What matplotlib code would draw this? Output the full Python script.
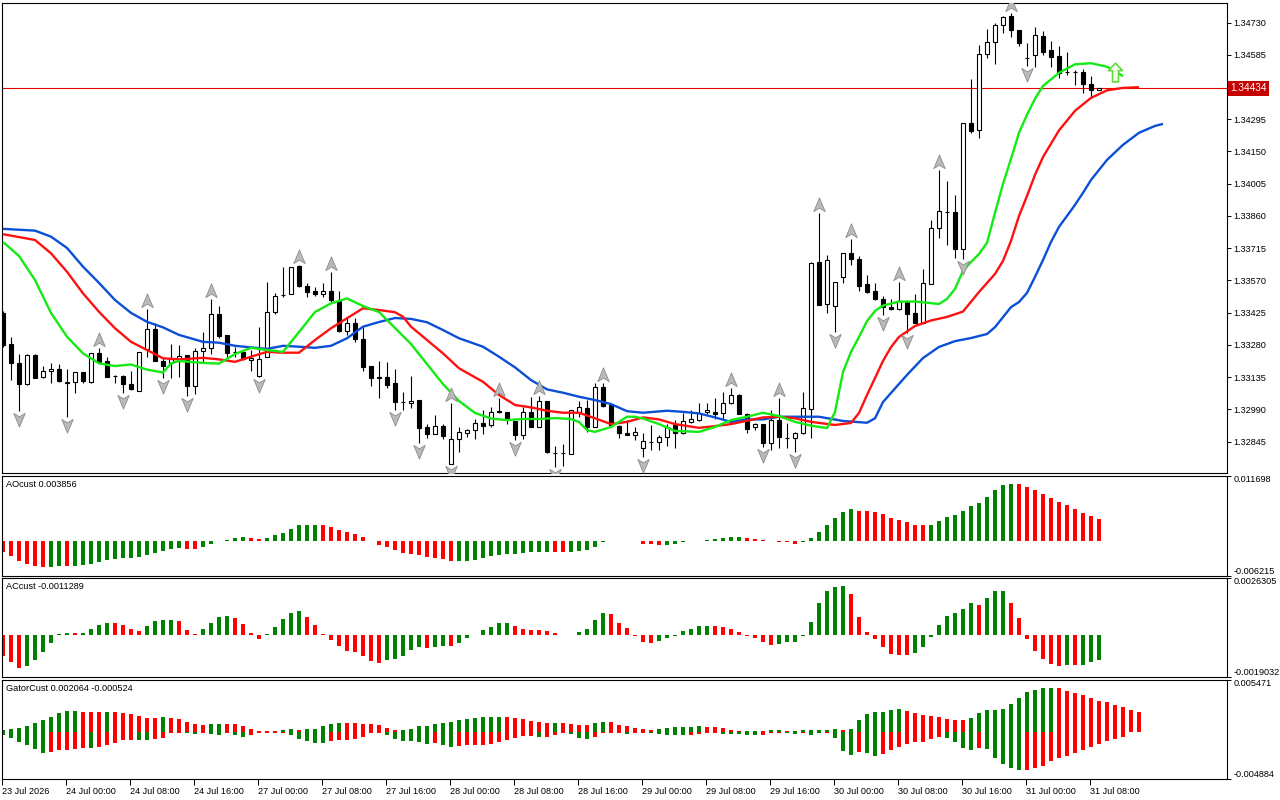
import matplotlib
matplotlib.use("Agg")
import matplotlib.pyplot as plt
import matplotlib.transforms as mtransforms
from matplotlib.path import Path
import numpy as np

plt.rcParams['font.family'] = ['Liberation Sans', 'DejaVu Sans']

# H1 candles, 23 Jul 2026 16:00 .. 31 Jul 09:00
opens = [1.33422, 1.33284, 1.33197, 1.33103, 1.33233, 1.33134, 1.33161, 1.33170, 1.33110, 1.33114,
         1.33157, 1.33114, 1.33242, 1.33206, 1.33141, 1.33140, 1.33104, 1.33074, 1.33260, 1.33350,
         1.33208, 1.33197, 1.33215, 1.33235, 1.33096, 1.33254, 1.33265, 1.33418, 1.33323, 1.33250,
         1.33249, 1.33212, 1.33140, 1.33224, 1.33427, 1.33505, 1.33508, 1.33635, 1.33545, 1.33523,
         1.33508, 1.33523, 1.33478, 1.33343, 1.33377, 1.33305, 1.33185, 1.33134, 1.33134, 1.33107,
         1.33024, 1.33019, 1.33032, 1.32909, 1.32878, 1.32915, 1.32743, 1.32855, 1.32882, 1.32897,
         1.32927, 1.32918, 1.32982, 1.32977, 1.32939, 1.32873, 1.32980, 1.32912, 1.33028, 1.32795,
         1.32792, 1.32789, 1.32979, 1.32995, 1.32912, 1.33089, 1.33010, 1.32915, 1.32885, 1.32873,
         1.32815, 1.32842, 1.32842, 1.32864, 1.32918, 1.32882, 1.32934, 1.32942, 1.32977, 1.32980,
         1.32972, 1.33017, 1.33053, 1.32968, 1.32909, 1.32923, 1.32837, 1.32942, 1.32862, 1.32860,
         1.32882, 1.32990, 1.33652, 1.33463, 1.33455, 1.33587, 1.33692, 1.33665, 1.33553, 1.33521,
         1.33485, 1.33449, 1.33440, 1.33478, 1.33422, 1.33380, 1.33554, 1.33805, 1.33877, 1.33877,
         1.33710, 1.34277, 1.34247, 1.34589, 1.34642, 1.34720, 1.34760, 1.34697, 1.34570, 1.34585,
         1.34670, 1.34607, 1.34580, 1.34507, 1.34507, 1.34508, 1.34453, 1.34427]
highs = [1.33433, 1.33317, 1.33239, 1.33239, 1.33238, 1.33185, 1.33197, 1.33194, 1.33170, 1.33157,
         1.33157, 1.33242, 1.33265, 1.33227, 1.33146, 1.33146, 1.33164, 1.33249, 1.33440, 1.33377,
         1.33220, 1.33284, 1.33278, 1.33235, 1.33265, 1.33339, 1.33488, 1.33455, 1.33323, 1.33272,
         1.33249, 1.33257, 1.33361, 1.33564, 1.33515, 1.33629, 1.33632, 1.33640, 1.33557, 1.33539,
         1.33557, 1.33609, 1.33523, 1.33404, 1.33400, 1.33359, 1.33185, 1.33208, 1.33204, 1.33170,
         1.33067, 1.33140, 1.33032, 1.32923, 1.32963, 1.32923, 1.33020, 1.32912, 1.32903, 1.32945,
         1.32987, 1.33002, 1.33040, 1.32977, 1.32939, 1.33002, 1.33047, 1.33050, 1.33028, 1.32825,
         1.32833, 1.32987, 1.33029, 1.33032, 1.33110, 1.33107, 1.33010, 1.32920, 1.32942, 1.32909,
         1.32882, 1.32920, 1.32875, 1.32924, 1.32942, 1.32972, 1.32987, 1.33017, 1.33020, 1.33040,
         1.33067, 1.33085, 1.33058, 1.32972, 1.32930, 1.32923, 1.32987, 1.33040, 1.32927, 1.32889,
         1.33067, 1.33654, 1.33872, 1.33685, 1.33564, 1.33692, 1.33755, 1.33680, 1.33595, 1.33557,
         1.33500, 1.33485, 1.33564, 1.33478, 1.33508, 1.33620, 1.33842, 1.34067, 1.34018, 1.33955,
         1.34277, 1.34477, 1.34630, 1.34700, 1.34727, 1.34760, 1.34772, 1.34697, 1.34637, 1.34712,
         1.34693, 1.34648, 1.34625, 1.34597, 1.34517, 1.34520, 1.34490, 1.34434]
lows = [1.33271, 1.33122, 1.32984, 1.33100, 1.33130, 1.33130, 1.33110, 1.33112, 1.32954, 1.33065,
        1.33107, 1.33110, 1.33200, 1.33137, 1.33110, 1.33062, 1.33077, 1.33074, 1.33227, 1.33209,
        1.33130, 1.33130, 1.33137, 1.33050, 1.33058, 1.33197, 1.33239, 1.33310, 1.33227, 1.33227,
        1.33212, 1.33164, 1.33137, 1.33224, 1.33418, 1.33497, 1.33508, 1.33542, 1.33497, 1.33500,
        1.33497, 1.33475, 1.33339, 1.33325, 1.33294, 1.33164, 1.33094, 1.33040, 1.33085, 1.32987,
        1.32987, 1.32995, 1.32840, 1.32862, 1.32878, 1.32855, 1.32743, 1.32798, 1.32867, 1.32855,
        1.32878, 1.32912, 1.32972, 1.32924, 1.32852, 1.32855, 1.32912, 1.32912, 1.32795, 1.32732,
        1.32735, 1.32789, 1.32957, 1.32889, 1.32912, 1.33002, 1.32912, 1.32862, 1.32873, 1.32852,
        1.32774, 1.32807, 1.32807, 1.32826, 1.32815, 1.32879, 1.32927, 1.32939, 1.32969, 1.32945,
        1.32945, 1.33014, 1.32968, 1.32882, 1.32897, 1.32819, 1.32807, 1.32815, 1.32815, 1.32798,
        1.32879, 1.32860, 1.33460, 1.33425, 1.33339, 1.33560, 1.33640, 1.33523, 1.33512, 1.33483,
        1.33415, 1.33437, 1.33437, 1.33332, 1.33377, 1.33380, 1.33554, 1.33760, 1.33730, 1.33670,
        1.33665, 1.34232, 1.34210, 1.34570, 1.34544, 1.34682, 1.34664, 1.34626, 1.34535, 1.34532,
        1.34585, 1.34529, 1.34480, 1.34495, 1.34450, 1.34415, 1.34397, 1.34427]
closes = [1.33280, 1.33197, 1.33103, 1.33233, 1.33132, 1.33161, 1.33170, 1.33119, 1.33111, 1.33157,
          1.33119, 1.33242, 1.33204, 1.33137, 1.33140, 1.33103, 1.33082, 1.33249, 1.33350, 1.33209,
          1.33186, 1.33218, 1.33230, 1.33096, 1.33254, 1.33265, 1.33418, 1.33320, 1.33245, 1.33246,
          1.33215, 1.33221, 1.33215, 1.33427, 1.33501, 1.33504, 1.33629, 1.33545, 1.33519, 1.33508,
          1.33523, 1.33480, 1.33344, 1.33377, 1.33305, 1.33182, 1.33132, 1.33133, 1.33100, 1.33024,
          1.33022, 1.33028, 1.32907, 1.32878, 1.32915, 1.32870, 1.32857, 1.32887, 1.32897, 1.32927,
          1.32916, 1.32978, 1.32979, 1.32945, 1.32873, 1.32980, 1.32912, 1.33028, 1.32799, 1.32794,
          1.32793, 1.32987, 1.32999, 1.32912, 1.33089, 1.33005, 1.32920, 1.32885, 1.32873, 1.32888,
          1.32848, 1.32843, 1.32866, 1.32912, 1.32882, 1.32937, 1.32945, 1.32972, 1.32987, 1.32968,
          1.33017, 1.33053, 1.32968, 1.32903, 1.32923, 1.32837, 1.32942, 1.32864, 1.32861, 1.32885,
          1.32995, 1.33647, 1.33460, 1.33662, 1.33564, 1.33692, 1.33665, 1.33545, 1.33519, 1.33485,
          1.33449, 1.33440, 1.33478, 1.33419, 1.33377, 1.33557, 1.33805, 1.33883, 1.33876, 1.33710,
          1.34277, 1.34244, 1.34589, 1.34642, 1.34720, 1.34754, 1.34697, 1.34637, 1.34569, 1.34675,
          1.34599, 1.34577, 1.34502, 1.34506, 1.34506, 1.34454, 1.34427, 1.34434]

# alligator lines (bar index, value)
jaw_idx = [0, 4, 6, 8, 10, 12, 14, 16, 18, 20, 22, 25, 27, 29, 31, 33, 35, 37, 39, 41,
           43, 45, 47, 49, 51, 53, 55, 57, 60, 62, 64, 66, 68, 70, 72, 74, 76, 78, 80, 83,
           85, 87, 89, 91, 93, 95, 97, 102, 105, 108, 109, 110, 111, 113, 115, 117, 119, 121, 123, 124,
           125, 126, 127, 128, 129, 130, 131, 132, 133, 134, 135, 136, 137, 138, 140, 142, 144, 145]
jaw = [1.33802, 1.33794, 1.33767, 1.33716, 1.33632, 1.33559, 1.33482, 1.33424, 1.33384, 1.33359,
       1.33325, 1.33294, 1.33290, 1.33276, 1.33269, 1.33262, 1.33276, 1.33272, 1.33267, 1.33276,
       1.33310, 1.33362, 1.33383, 1.33401, 1.33397, 1.33382, 1.33347, 1.33310, 1.33272, 1.33227,
       1.33179, 1.33122, 1.33080, 1.33065, 1.33047, 1.33032, 1.33014, 1.32982, 1.32975, 1.32984,
       1.32979, 1.32972, 1.32954, 1.32934, 1.32945, 1.32945, 1.32957, 1.32957, 1.32938, 1.32930,
       1.32950, 1.33023, 1.33064, 1.33145, 1.33221, 1.33271, 1.33297, 1.33311, 1.33329, 1.33360,
       1.33405, 1.33450, 1.33473, 1.33514, 1.33586, 1.33662, 1.33743, 1.33811, 1.33860, 1.33910,
       1.33964, 1.34022, 1.34067, 1.34112, 1.34180, 1.34234, 1.34265, 1.34274]
teeth_idx = [0, 4, 6, 8, 10, 12, 14, 16, 18, 20, 22, 25, 27, 29, 31, 33, 35, 37, 39, 41,
             43, 45, 47, 49, 50, 51, 53, 55, 57, 60, 62, 64, 66, 68, 70, 72, 74, 76, 78, 80,
             82, 84, 87, 89, 91, 93, 95, 97, 99, 101, 104, 106, 107, 108, 109, 110, 111, 112, 114, 116,
             118, 120, 122, 124, 125, 126, 127, 128, 129, 130, 132, 134, 136, 138, 140, 142]
teeth = [1.33778, 1.33752, 1.33692, 1.33609, 1.33512, 1.33429, 1.33355, 1.33294, 1.33257, 1.33220,
         1.33215, 1.33222, 1.33215, 1.33204, 1.33227, 1.33249, 1.33245, 1.33245, 1.33302, 1.33355,
         1.33400, 1.33445, 1.33437, 1.33427, 1.33407, 1.33362, 1.33302, 1.33242, 1.33175, 1.33114,
         1.33055, 1.33010, 1.32999, 1.32984, 1.32975, 1.32975, 1.32950, 1.32924, 1.32934, 1.32954,
         1.32945, 1.32924, 1.32907, 1.32915, 1.32924, 1.32939, 1.32954, 1.32957, 1.32950, 1.32934,
         1.32920, 1.32929, 1.32974, 1.33055, 1.33131, 1.33208, 1.33270, 1.33316, 1.33365, 1.33390,
         1.33406, 1.33430, 1.33518, 1.33599, 1.33658, 1.33748, 1.33860, 1.33950, 1.34045, 1.34125,
         1.34245, 1.34333, 1.34391, 1.34425, 1.34436, 1.34439]
lips_idx = [0, 2, 4, 6, 8, 10, 12, 14, 16, 18, 20, 21, 22, 25, 27, 29, 31, 33, 35, 37,
            39, 41, 43, 45, 47, 49, 51, 53, 55, 57, 59, 61, 63, 65, 67, 69, 71, 72, 73, 74,
            76, 78, 79, 80, 82, 84, 87, 89, 91, 93, 95, 97, 99, 101, 103, 104, 105, 106, 107, 108,
            109, 110, 112, 114, 116, 117, 118, 119, 120, 121, 122, 123, 124, 125, 126, 127, 128, 129, 130, 131,
            132, 134, 136, 138, 139, 140]
lips = [1.33743, 1.33680, 1.33572, 1.33424, 1.33317, 1.33242, 1.33197, 1.33185, 1.33192, 1.33169,
        1.33156, 1.33197, 1.33208, 1.33199, 1.33196, 1.33239, 1.33267, 1.33257, 1.33249, 1.33338,
        1.33428, 1.33467, 1.33489, 1.33455, 1.33428, 1.33356, 1.33284, 1.33194, 1.33104, 1.33028,
        1.32974, 1.32949, 1.32942, 1.32947, 1.32947, 1.32951, 1.32947, 1.32933, 1.32897, 1.32889,
        1.32911, 1.32957, 1.32957, 1.32949, 1.32924, 1.32893, 1.32889, 1.32911, 1.32942, 1.32957,
        1.32975, 1.32960, 1.32934, 1.32917, 1.32906, 1.32978, 1.33158, 1.33248, 1.33316, 1.33387,
        1.33433, 1.33457, 1.33475, 1.33475, 1.33468, 1.33464, 1.33487, 1.33532, 1.33613, 1.33653,
        1.33689, 1.33739, 1.33874, 1.34004, 1.34117, 1.34234, 1.34315, 1.34387, 1.34445, 1.34474,
        1.34504, 1.34542, 1.34547, 1.34531, 1.34513, 1.34488]

frac_up = [12, 18, 26, 37, 41, 56, 62, 67, 75, 91, 97, 102, 106, 112, 117, 126]
frac_dn = [2, 8, 15, 20, 23, 32, 49, 52, 56, 64, 69, 80, 95, 99, 104, 110, 113, 120, 128]
signal_bar, signal_price = 139, 1.34508
last_price = 1.34434

price_ticks = [1.34730, 1.34585, 1.34295, 1.34150, 1.34005, 1.33860, 1.33715,
               1.33570, 1.33425, 1.33280, 1.33135, 1.32990, 1.32845]
time_labels = ["23 Jul 2026", "24 Jul 00:00", "24 Jul 08:00", "24 Jul 16:00",
               "27 Jul 00:00", "27 Jul 08:00", "27 Jul 16:00", "28 Jul 00:00",
               "28 Jul 08:00", "28 Jul 16:00", "29 Jul 00:00", "29 Jul 08:00",
               "29 Jul 16:00", "30 Jul 00:00", "30 Jul 08:00", "30 Jul 16:00",
               "31 Jul 00:00", "31 Jul 08:00"]

# oscillators, in units of 1e-5
ao_e5 = [-195, -268, -359, -414, -451, -469, -469, -451, -455, -445,
         -432, -414, -378, -341, -323, -305, -305, -298, -250, -219,
         -177, -140, -122, -140, -140, -104, -49, -12, 12, 55,
         73, 49, 30, 55, 97, 146, 219, 280, 292, 292,
         280, 256, 201, 164, 128, 73, -12, -67, -104, -158,
         -219, -231, -250, -286, -305, -329, -359, -359, -359, -347,
         -311, -274, -256, -238, -231, -219, -207, -201, -201, -201,
         -201, -201, -177, -158, -104, -30, -12, -12, -12, -12,
         -55, -55, -73, -67, -49, -30, -12, -6, 12, 30,
         55, 73, 73, 49, 30, 12, -12, -30, -30, -49,
         -30, 43, 164, 280, 402, 512, 566, 542, 530, 518,
         475, 402, 365, 329, 292, 280, 292, 347, 420, 457,
         530, 621, 676, 792, 914, 1005, 1023, 1023, 968, 914,
         840, 767, 694, 639, 566, 493, 438, 384]
ao_runs = [("r", 6), ("g", 2), ("r", 1), ("g", 14), ("r", 2), ("g", 6), ("r", 2), ("g", 7),
           ("r", 17), ("g", 12), ("r", 2), ("g", 6), ("r", 1), ("g", 1), ("r", 4), ("g", 10),
           ("r", 7), ("g", 7), ("r", 9), ("g", 11), ("r", 11)]

ac_e5 = [-93, -124, -151, -140, -113, -78, -37, 5, 8, 8,
         12, 27, 46, 58, 55, 46, 27, 18, 41, 64,
         69, 69, 64, 23, 5, 27, 55, 82, 87, 78,
         50, 9, -18, 5, 37, 73, 101, 110, 82, 46,
         5, -23, -50, -73, -78, -96, -119, -128, -114, -110,
         -96, -69, -55, -60, -55, -50, -50, -37, -14, 2,
         23, 37, 55, 55, 41, 27, 23, 23, 18, 9,
         2, 2, 14, 27, 69, 101, 96, 55, 32, -2,
         -32, -37, -27, -14, -3, 18, 27, 41, 41, 41,
         37, 27, 14, -3, -14, -32, -46, -41, -32, -32,
         -2, 60, 146, 201, 220, 224, 188, 82, 14, -17,
         -53, -85, -90, -90, -81, -53, -8, 46, 87, 101,
         119, 146, 137, 169, 201, 201, 146, 78, -17, -72,
         -108, -131, -140, -136, -136, -136, -122, -113]
ac_runs = [("r", 3), ("g", 6), ("r", 1), ("g", 4), ("r", 4), ("g", 4), ("r", 3), ("g", 4),
           ("r", 4), ("g", 5), ("r", 10), ("g", 5), ("r", 1), ("g", 2), ("r", 1), ("g", 7),
           ("r", 8), ("g", 4), ("r", 6), ("g", 7), ("r", 8), ("g", 9), ("r", 8), ("g", 8),
           ("r", 1), ("g", 3), ("r", 7), ("g", 1), ("r", 1), ("g", 3)]

gator_up_e5 = [24, 31, 38, 59, 94, 125, 153, 198, 219, 219,
               205, 205, 205, 205, 205, 198, 188, 163, 143, 143,
               153, 143, 132, 101, 80, 73, 80, 80, 80, 80,
               59, 31, 10, 10, 10, 21, 31, 24, 28, 31,
               59, 83, 94, 94, 94, 83, 80, 73, 38, 17,
               24, 31, 59, 66, 80, 94, 101, 122, 132, 143,
               153, 153, 153, 153, 143, 132, 111, 101, 90, 90,
               90, 80, 70, 70, 90, 101, 101, 70, 59, 38,
               28, 17, 28, 38, 49, 49, 49, 59, 49, 49,
               38, 17, 10, 7, 7, 7, 17, 17, 7, 7,
               17, 17, 17, 17, 28, 17, 28, 122, 184, 205,
               205, 226, 236, 216, 195, 174, 163, 153, 132, 122,
               122, 143, 195, 226, 226, 236, 289, 351, 414, 435,
               455, 455, 455, 424, 403, 382, 351, 320, 309, 278,
               257, 226, 205]
gator_up_runs = [("g", 10), ("r", 3), ("g", 1), ("r", 6), ("g", 1), ("r", 5), ("g", 2), ("r", 7),
                 ("g", 2), ("r", 1), ("g", 5), ("r", 7), ("g", 13), ("r", 6), ("g", 1), ("r", 4),
                 ("g", 2), ("r", 6), ("g", 6), ("r", 5), ("g", 2), ("r", 1), ("g", 2), ("r", 1),
                 ("g", 6), ("r", 1), ("g", 7), ("r", 8), ("g", 11), ("r", 11)]
gator_dn_e5 = [-28, -63, -104, -136, -177, -219, -205, -188, -188, -177,
               -167, -167, -156, -136, -111, -83, -83, -83, -83, -73,
               -63, -10, -10, -14, -21, -10, -21, -31, -10, -31,
               -52, -31, -10, -10, -10, -10, -31, -73, -94, -115,
               -115, -94, -83, -83, -73, -52, -10, -10, -31, -73,
               -94, -94, -104, -125, -115, -136, -156, -146, -136, -136,
               -136, -125, -104, -83, -63, -42, -42, -52, -52, -31,
               -10, -21, -63, -73, -52, -10, -10, -10, -21, -10,
               -10, -10, -21, -31, -31, -31, -31, -21, -10, -10,
               -21, -21, -21, -31, -31, -31, -10, -10, -10, -21,
               -10, -31, -10, -10, -63, -198, -240, -209, -219, -250,
               -229, -188, -156, -125, -104, -104, -73, -52, -63, -104,
               -167, -188, -167, -177, -271, -334, -375, -396, -396, -375,
               -355, -302, -271, -250, -219, -188, -156, -125, -94, -73, -52]
gator_dn_runs = [("g", 6), ("r", 5), ("g", 1), ("r", 5), ("g", 2), ("r", 4), ("g", 2), ("r", 1),
                 ("g", 2), ("r", 1), ("g", 2), ("r", 5), ("g", 5), ("r", 7), ("g", 6), ("r", 1),
                 ("g", 2), ("r", 10), ("g", 1), ("r", 3), ("g", 3), ("r", 4), ("g", 1), ("r", 2),
                 ("g", 5), ("r", 4), ("g", 5), ("r", 3), ("g", 2), ("r", 1), ("g", 2), ("r", 1),
                 ("g", 3), ("r", 1), ("g", 2), ("r", 8), ("g", 4), ("r", 1), ("g", 5), ("r", 13)]

RED, GREEN = "#ff0000", "#008000"
HCOL = {"r": RED, "g": GREEN}


def expand(runs):
    return [HCOL[k] for k, n in runs for _ in range(n)]


# ---- layout (pixel rectangles like the terminal window) ----
W, H = 1280, 800
fig = plt.figure(figsize=(W / 100, H / 100), dpi=100)
fig.patch.set_facecolor("white")


def panel(top, bottom):
    return fig.add_axes([2 / W, 1 - bottom / H, 1225 / W, (bottom - top) / H])


ax = panel(2.5, 473)
ax_ao = panel(475.5, 575.5)
ax_ac = panel(577.5, 677)
ax_g = panel(679.5, 779)

FS = 6.6
for a in (ax, ax_ao, ax_ac, ax_g):
    a.set_xlim(-0.125, 153.0)
    a.set_facecolor("white")
    for s in a.spines.values():
        s.set_linewidth(0.8)
        s.set_color("black")
    a.yaxis.tick_right()
    a.tick_params(axis="y", length=3, width=0.7, pad=1.5, labelsize=FS, direction="out")
    a.tick_params(axis="x", bottom=False, labelbottom=False)

# ---- main chart ----
o, h, l, c = map(np.array, (opens, highs, lows, closes))
x = np.arange(len(o))
ax.vlines(x, l, h, color="black", lw=0.8, zorder=2)
body = np.maximum(np.abs(c - o), 0.000012)
ax.bar(x, body, bottom=np.minimum(o, c), width=0.58,
       color=np.where(c >= o, "white", "black"), edgecolor="black", linewidth=0.8, zorder=3)

ax.plot(jaw_idx, jaw, color="#0a4fd6", lw=1.7, zorder=4, solid_capstyle="butt")
ax.plot(teeth_idx, teeth, color="#ff1010", lw=1.7, zorder=4, solid_capstyle="butt")
ax.plot(lips_idx, lips, color="#14ea14", lw=1.7, zorder=4, solid_capstyle="butt")

up_mk = Path([(0, 1), (0.75, -0.8), (0, -0.35), (-0.75, -0.8), (0, 1)],
             [Path.MOVETO, Path.LINETO, Path.LINETO, Path.LINETO, Path.CLOSEPOLY])
dn_mk = Path([(0, -1), (0.75, 0.8), (0, 0.35), (-0.75, 0.8), (0, -1)],
             [Path.MOVETO, Path.LINETO, Path.LINETO, Path.LINETO, Path.CLOSEPOLY])
off = 0.00036
ax.plot(frac_up, h[frac_up] + off, ls="none", marker=up_mk, ms=11, mfc="#b9b9b9",
        mec="#8c8c8c", mew=0.6, zorder=5)
ax.plot(frac_dn, l[frac_dn] - off, ls="none", marker=dn_mk, ms=11, mfc="#b9b9b9",
        mec="#8c8c8c", mew=0.6, zorder=5)

sig_mk = Path([(0, 1), (0.75, 0.2), (0.32, 0.2), (0.32, -1), (-0.32, -1), (-0.32, 0.2),
               (-0.75, 0.2), (0, 1)],
              [Path.MOVETO] + [Path.LINETO] * 6 + [Path.CLOSEPOLY])
ax.plot([signal_bar], [signal_price], ls="none", marker=sig_mk, ms=13.5, mfc="#f2fff0",
        mec="#66d83a", mew=1.2, zorder=6)

ax.axhline(last_price, color="#e00000", lw=0.8, zorder=1)
ax.set_ylim(1.32704, 1.34820)
ax.set_yticks(price_ticks)
ax.set_yticklabels(["%.5f" % v for v in price_ticks])
trans = mtransforms.blended_transform_factory(ax.transAxes, ax.transData)
ax.text(1.0028, last_price, "%.5f" % last_price, transform=trans, ha="left", va="center",
        fontsize=7.2, color="white", clip_on=False,
        bbox=dict(boxstyle="square,pad=0.22", fc="#c40000", ec="none"))

# ---- AO ----
ao = np.array(ao_e5) / 1e5
ax_ao.bar(np.arange(len(ao)), ao, width=0.5, color=expand(ao_runs), linewidth=0)

# ---- AC ----
ac = np.array(ac_e5) / 1e5
ax_ac.bar(np.arange(len(ac)), ac, width=0.5, color=expand(ac_runs), linewidth=0)

# ---- Gator ----
gu = np.array(gator_up_e5) / 1e5
gd = np.array(gator_dn_e5) / 1e5
ax_g.bar(np.arange(len(gu)), gu, width=0.5, color=expand(gator_up_runs), linewidth=0)
ax_g.bar(np.arange(len(gd)), gd, width=0.5, color=expand(gator_dn_runs), linewidth=0)

panels = [(ax_ao, -0.006215, 0.011698, "-0.006215", "0.011698", "AOcust 0.003856"),
          (ax_ac, -0.0019032, 0.0026305, "-0.0019032", "0.0026305", "ACcust -0.0011289"),
          (ax_g, -0.004884, 0.005471, "-0.004884", "0.005471", "GatorCust 0.002064 -0.000524")]
for a, lo, hi, lo_s, hi_s, name in panels:
    a.set_ylim(lo, hi)
    a.set_yticks([lo, hi])
    a.set_yticklabels([lo_s, hi_s])
    lbls = a.get_yticklabels()
    lbls[0].set_va("bottom")
    lbls[1].set_va("top")
    a.text(0.0033, 0.91, name, transform=a.transAxes, ha="left", va="center", fontsize=FS)

# ---- time axis ----
ax_g.tick_params(axis="x", bottom=True, labelbottom=True, length=4, width=0.7, pad=1.5,
                 labelsize=FS, direction="out")
ax_g.set_xticks(np.arange(len(time_labels)) * 8 - 0.125)
ax_g.set_xticklabels(time_labels, ha="left")

fig.savefig("out.png", dpi=100, facecolor="white")
